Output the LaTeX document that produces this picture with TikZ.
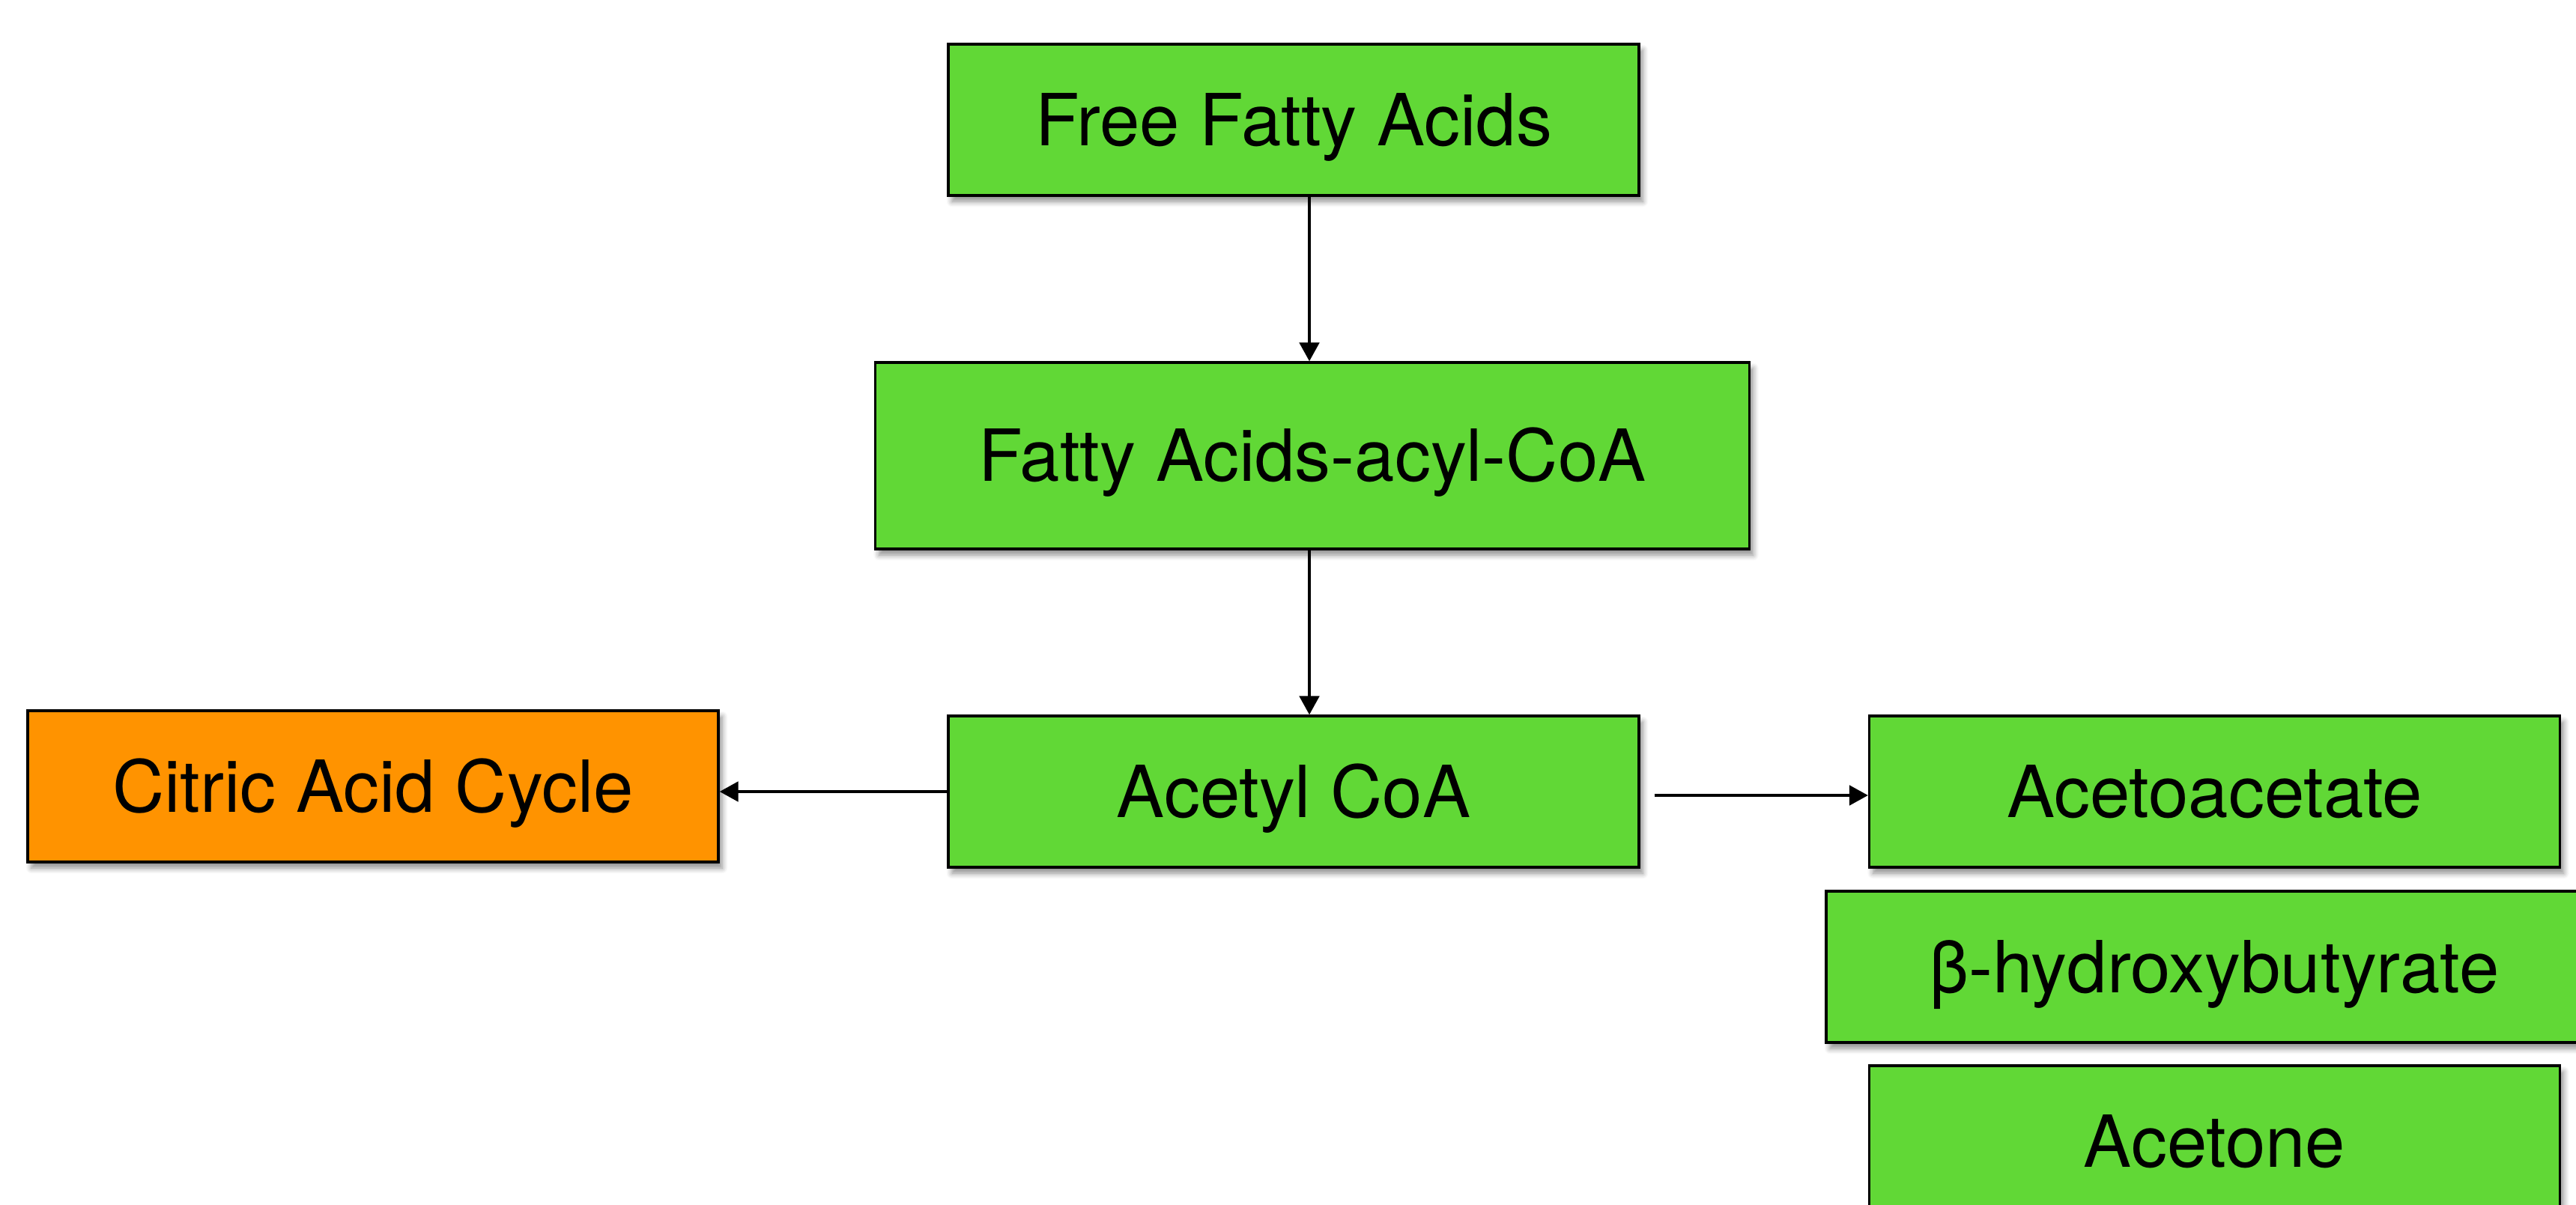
\documentclass[tikz,border=0pt]{standalone}
\usepackage{fontspec}
\setmainfont{TeX Gyre Heros}
\usetikzlibrary{arrows.meta,shadows.blur}
\definecolor{boxgreen}{HTML}{61D836}
\definecolor{boxorange}{HTML}{FF9300}
\tikzset{
  box/.style={draw=black, line width=0.9pt, rectangle, inner sep=0pt,
    font=\fontsize{27.3}{32}\selectfont, text height=0.68cm, text depth=0cm,
    blur shadow={shadow blur steps=6, shadow xshift=0.05cm, shadow yshift=-0.08cm, shadow opacity=45}},
  greenbox/.style={box, fill=boxgreen, minimum width=9.22cm, minimum height=2.02cm},
  conn/.style={draw=black, line width=1.4pt, -{Triangle[length=0.25cm, width=0.26cm]}}
}
\begin{document}
\begin{tikzpicture}
\useasboundingbox (0,0) rectangle (34.39,-16.08);
\clip (0,0) rectangle (34.39,-16.08);
\node[greenbox] (ffa) at (17.27,-1.60) {Free Fatty Acids};
\node[greenbox, minimum width=11.67cm, minimum height=2.49cm] (acyl) at (17.52,-6.085) {Fatty Acids-acyl-CoA};
\node[greenbox] (acetyl) at (17.27,-10.57) {Acetyl CoA};
\node[box, fill=boxorange, minimum width=9.22cm, minimum height=2.02cm] (citric) at (4.98,-10.50) {Citric Acid Cycle};
\node[greenbox] (aceto) at (29.565,-10.57) {Acetoacetate};
\node[greenbox, minimum width=10.36cm] (bhb) at (29.56,-12.91) {β-hydroxybutyrate};
\node[greenbox] (acetone) at (29.565,-15.24) {Acetone};
\draw[conn] (ffa.south -| 17.48,0) -- (acyl.north -| 17.48,0);
\draw[conn] (acyl.south -| 17.48,0) -- (acetyl.north -| 17.48,0);
\draw[conn] (acetyl.west) -- (acetyl.west -| citric.east);
\draw[conn] ([xshift=0.19cm,yshift=-0.05cm]acetyl.east) -- ([yshift=-0.05cm]aceto.west);
\end{tikzpicture}
\end{document}
